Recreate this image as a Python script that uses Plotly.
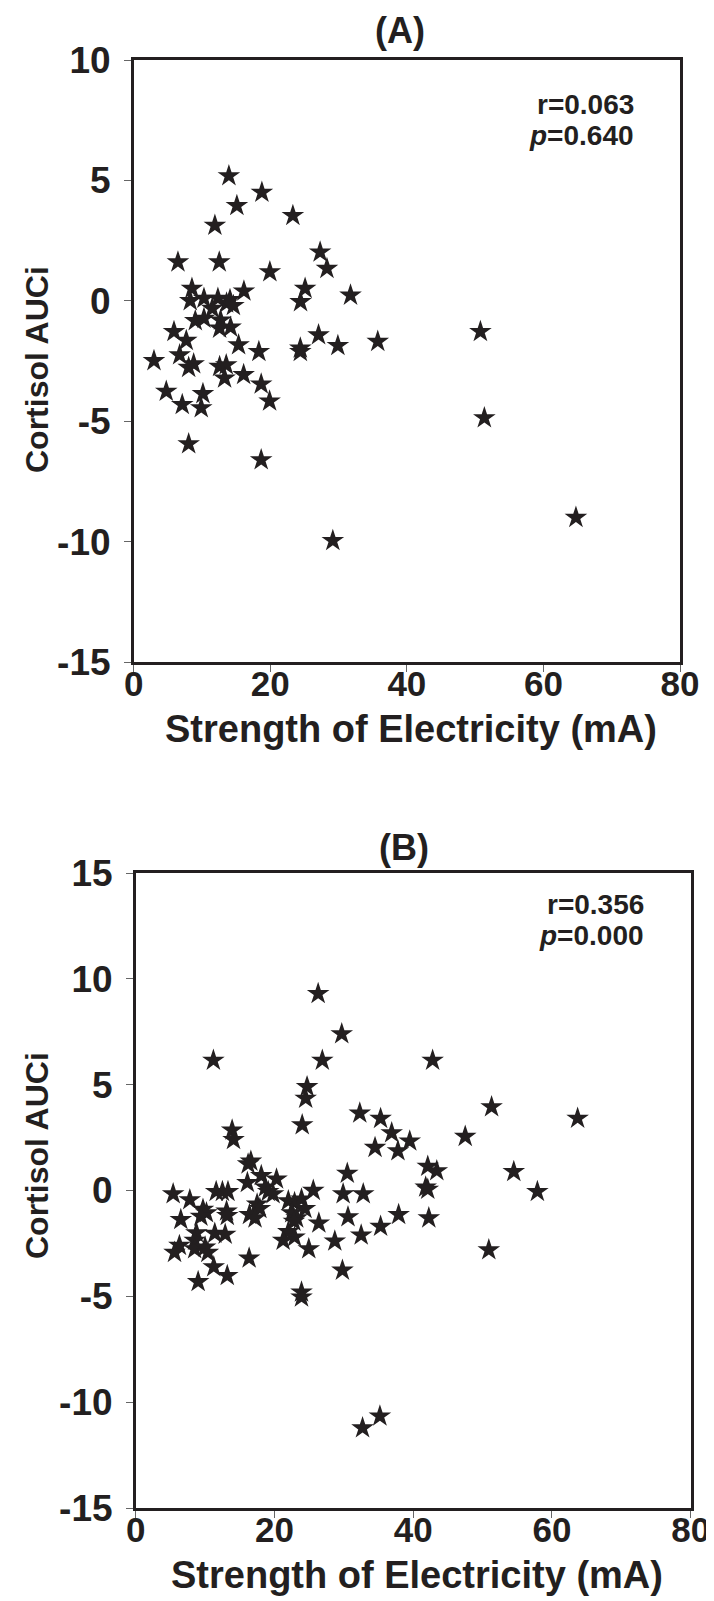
import plotly.graph_objects as go

# ---------------- data ----------------
a_strength = [13.94, 18.77, 15.11, 23.31, 11.89, 27.3, 28.3, 6.48, 12.53, 19.94,
              8.53, 16.14, 25.1, 31.75, 24.43, 8.28, 10.29, 12.33, 13.6, 14.1,
              14.6, 11.5, 10.29, 9.02, 12.72, 12.58, 14.19, 5.9, 7.7, 15.36,
              27.07, 29.9, 35.74, 24.4, 24.4, 18.33, 6.73, 2.97, 8.78, 8.05,
              12.58, 13.55, 13.31, 16.1, 18.67, 4.77, 10.14, 19.9, 7.11, 9.89,
              8.05, 18.67, 29.16, 50.77, 51.35, 64.76]
a_cortisol = [5.19, 4.50, 3.95, 3.54, 3.13, 2.02, 1.34, 1.61, 1.61, 1.20,
              0.51, 0.40, 0.51, 0.23, -0.04, 0.0, 0.10, 0.10, -0.1, 0.05,
              -0.2, -0.32, -0.73, -0.83, -0.80, -1.14, -1.10, -1.28, -1.65, -1.83,
              -1.42, -1.86, -1.69, -1.97, -2.11, -2.11, -2.25, -2.49, -2.62, -2.77,
              -2.73, -2.66, -3.21, -3.07, -3.46, -3.76, -3.86, -4.17, -4.31, -4.45,
              -5.94, -6.61, -9.96, -1.28, -4.86, -9.0]

b_strength = [26.3, 29.7, 11.2, 26.9, 42.8, 24.7, 24.5, 24.0, 32.3, 35.3,
              36.9, 39.5, 34.5, 37.8, 47.5, 51.3, 63.7, 13.9, 14.1, 16.2,
              16.6, 30.5, 42.1, 43.4, 54.5, 16.1, 18.1, 20.3, 18.7, 19.1,
              19.8, 25.6, 29.9, 32.8, 41.8, 42.1, 57.9, 5.4, 7.8, 11.6,
              12.5, 13.3, 22.0, 22.9, 23.9, 24.4, 17.5, 17.9, 9.7, 10.2,
              9.4, 13.1, 13.2, 16.4, 17.2, 22.5, 23.2, 22.8, 30.6, 37.9,
              42.25, 6.5, 26.4, 35.3, 8.75, 8.5, 11.4, 12.9, 22.0, 22.9,
              32.5, 21.25, 28.7, 6.3, 5.6, 8.5, 10.0, 10.4, 24.95, 50.9,
              16.35, 29.8, 11.25, 13.2, 9.0, 23.9, 23.9, 32.7, 35.2]
b_cortisol = [9.3, 7.4, 6.15, 6.15, 6.15, 4.9, 4.35, 3.1, 3.65, 3.4,
              2.72, 2.33, 2.03, 1.87, 2.55, 3.95, 3.41, 2.85, 2.4, 1.25,
              1.38, 0.81, 1.14, 0.93, 0.89, 0.37, 0.7, 0.54, 0.16, -0.05,
              -0.16, 0.0, -0.16, -0.16, 0.16, 0.05, -0.05, -0.16, -0.44, -0.05,
              -0.05, -0.05, -0.49, -0.57, -0.41, -0.86, -0.65, -0.86, -0.89, -1.06,
              -1.22, -0.98, -1.19, -1.14, -1.3, -1.06, -1.3, -1.46, -1.25, -1.14,
              -1.3, -1.38, -1.54, -1.7, -2.0, -2.36, -2.03, -2.07, -1.95, -2.2,
              -2.11, -2.36, -2.39, -2.6, -2.93, -2.76, -2.68, -2.93, -2.76, -2.81,
              -3.2, -3.77, -3.61, -4.02, -4.31, -4.8, -5.04, -11.22, -10.66]

x_ticks = [0, 20, 40, 60, 80]
x_tick_labels = ["0", "20", "40", "60", "80"]
a_y_ticks = [-15, -10, -5, 0, 5, 10]
a_y_tick_labels = ["-15", "-10", "-5", "0", "5", "10"]
b_y_ticks = [-15, -10, -5, 0, 5, 10, 15]
b_y_tick_labels = ["-15", "-10", "-5", "0", "5", "10", "15"]
stats_a = ["r=0.063", "<i>p</i>=0.640"]
stats_b = ["r=0.356", "<i>p</i>=0.000"]
panel_titles = ["(A)", "(B)"]
x_title = "Strength of Electricity (mA)"
y_title = "Cortisol AUCi"

# ---------------- layout ----------------
W, H = 714, 1601
INK = "#231f20"
FONT = "Liberation Sans, Arial, sans-serif"

def px_x(v):
    return v / W

def px_y(v):
    return 1 - v / H

A_left, A_right, A_top, A_bot = 125.7, 672.0, 52.0, 654.0
B_left, B_right, B_top, B_bot = 127.7, 682.7, 865.0, 1500.0

fig = go.Figure()
marker = dict(symbol="star", size=17, color=INK, line=dict(width=0))
fig.add_trace(go.Scatter(x=a_strength, y=a_cortisol, mode="markers",
                         marker=marker, xaxis="x", yaxis="y", showlegend=False))
fig.add_trace(go.Scatter(x=b_strength, y=b_cortisol, mode="markers",
                         marker=marker, xaxis="x2", yaxis="y2", showlegend=False))

ytickfont = dict(family=FONT, size=37, color=INK, weight="bold")
xtickfont = dict(family=FONT, size=35, color=INK, weight="bold")
common = dict(showline=True, linecolor=INK, linewidth=2.5, mirror=True,
              ticks="outside", ticklen=7, tickwidth=1, tickcolor="#666666",
              showgrid=False, zeroline=False,
              automargin=False, tickmode="array")

fig.update_layout(
    width=W, height=H,
    margin=dict(l=0, r=0, t=0, b=0, pad=0),
    paper_bgcolor="white", plot_bgcolor="white",
    xaxis=dict(domain=[px_x(A_left), px_x(A_right)], range=[0, 80],
               tickvals=x_ticks, ticktext=x_tick_labels, anchor="y",
               ticklabelstandoff=-18, tickfont=xtickfont, **common),
    yaxis=dict(domain=[px_y(A_bot), px_y(A_top)], range=[-15, 10],
               tickvals=a_y_ticks, ticktext=a_y_tick_labels, anchor="x",
               ticklabelstandoff=6, tickfont=ytickfont, **common),
    xaxis2=dict(domain=[px_x(B_left), px_x(B_right)], range=[0, 80],
                tickvals=x_ticks, ticktext=x_tick_labels, anchor="y2",
                ticklabelstandoff=-18, tickfont=xtickfont, **common),
    yaxis2=dict(domain=[px_y(B_bot), px_y(B_top)], range=[-15, 15],
                tickvals=b_y_ticks, ticktext=b_y_tick_labels, anchor="x2",
                ticklabelstandoff=6, tickfont=ytickfont, **common),
)

anns = []
ptitle_font = dict(family=FONT, size=36, color=INK, weight="bold")
xtitle_font = dict(family=FONT, size=38, color=INK, weight="bold")
ytitle_font = dict(family=FONT, size=32, color=INK, weight="bold")
# panel titles
anns.append(dict(text=panel_titles[0], x=px_x(392), y=px_y(0),
                 xref="paper", yref="paper", showarrow=False, font=ptitle_font,
                 xanchor="center", yanchor="top"))
anns.append(dict(text=panel_titles[1], x=px_x(396), y=px_y(817),
                 xref="paper", yref="paper", showarrow=False, font=ptitle_font,
                 xanchor="center", yanchor="top"))
# axis titles
for (l, r, ty, yc) in [(A_left, A_right, A_bot + 67, 362), (B_left, B_right, B_bot + 67, 1148)]:
    anns.append(dict(text=x_title, x=px_x((l + r) / 2 + 4), y=px_y(ty),
                     xref="paper", yref="paper", showarrow=False, font=xtitle_font,
                     xanchor="center", yanchor="middle"))
    anns.append(dict(text=y_title, x=px_x(29), y=px_y(yc),
                     xref="paper", yref="paper", showarrow=False, font=ytitle_font,
                     textangle=-90, xanchor="center", yanchor="middle"))
# statistics
stat_font = dict(family=FONT, size=28, color=INK, weight="bold")
for txt, yv in zip(stats_a, [8.15, 6.85]):
    anns.append(dict(text=txt, x=73.5, y=yv, xref="x", yref="y", showarrow=False,
                     font=stat_font, xanchor="right", yanchor="middle"))
for txt, yv in zip(stats_b, [13.5, 12.05]):
    anns.append(dict(text=txt, x=73.5, y=yv, xref="x2", yref="y2", showarrow=False,
                     font=stat_font, xanchor="right", yanchor="middle"))
fig.update_layout(annotations=anns)

fig.write_html("out.html")
